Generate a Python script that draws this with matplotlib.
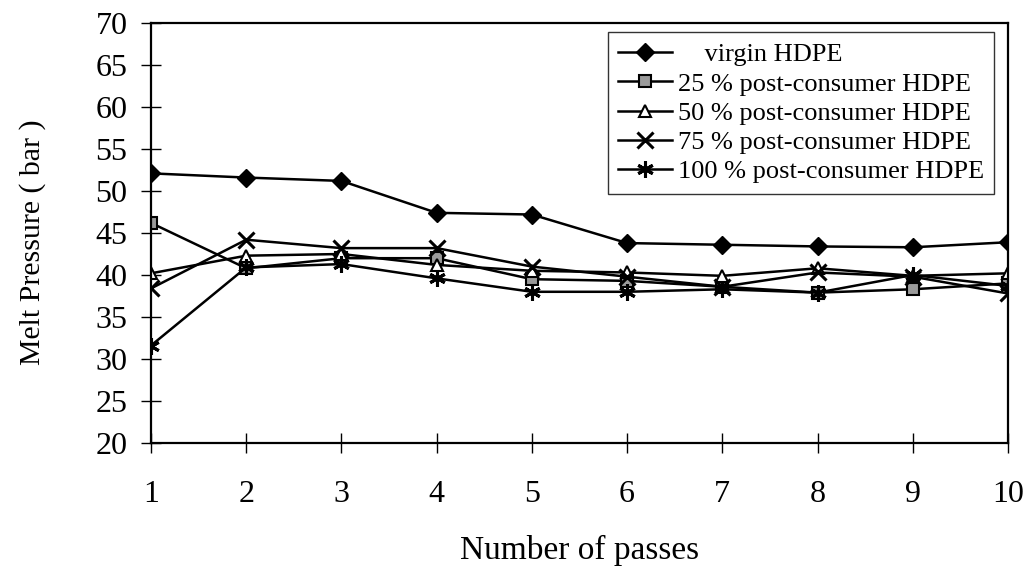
#!/usr/bin/env python3
"""
Melt pressure vs number of passes for virgin and post-consumer HDPE blends.
"""

import matplotlib
matplotlib.use('Agg')
import matplotlib.pyplot as plt

# Data
passes = [1, 2, 3, 4, 5, 6, 7, 8, 9, 10]
virgin = [52.1, 51.6, 51.2, 47.4, 47.2, 43.8, 43.6, 43.4, 43.3, 43.9]
pc25 = [46.2, 40.8, 42.0, 42.0, 39.5, 39.3, 38.6, 37.9, 38.3, 39.0]
pc50 = [40.2, 42.3, 42.5, 41.2, 40.5, 40.3, 39.9, 40.8, 39.9, 40.2]
pc75 = [38.4, 44.2, 43.2, 43.2, 41.0, 39.8, 38.6, 40.3, 39.8, 37.8]
pc100 = [31.6, 40.9, 41.3, 39.6, 38.0, 38.0, 38.3, 37.9, 40.0, 38.7]

labels = ['    virgin HDPE',
          '25 % post-consumer HDPE',
          '50 % post-consumer HDPE',
          '75 % post-consumer HDPE',
          '100 % post-consumer HDPE']

plt.rcParams['font.family'] = ['Liberation Serif', 'DejaVu Serif']

fig = plt.figure(figsize=(10.23, 5.71), dpi=100)
ax = fig.add_axes([0.1476, 0.2242, 0.8377, 0.7355])

lw = 1.8
ax.plot(passes, virgin, '-', color='black', lw=lw, marker='D', ms=9,
        mfc='black', mec='black', label=labels[0])
ax.plot(passes, pc25, '-', color='black', lw=lw, marker='s', ms=9,
        mfc='#9a9a9a', mec='black', mew=1.5, label=labels[1])
ax.plot(passes, pc50, '-', color='black', lw=lw, marker='^', ms=9,
        mfc='white', mec='black', mew=1.5, label=labels[2])
ax.plot(passes, pc75, '-', color='black', lw=lw, marker='x', ms=11,
        mec='black', mew=2.2, label=labels[3])
ax.plot(passes, pc100, '-', color='black', lw=lw, marker=(6, 2, 0), ms=12,
        mec='black', mew=2.2, label=labels[4])

ax.set_xlim(1, 10)
ax.set_ylim(20, 70)
ax.set_xticks(passes)
ax.set_yticks(range(20, 71, 5))
ax.tick_params(axis='both', direction='inout', length=14, width=1,
               labelsize=23)
ax.tick_params(axis='y', pad=10)
ax.tick_params(axis='x', pad=20)
for s in ax.spines.values():
    s.set_linewidth(1.6)

ax.set_xlabel('Number of passes', fontsize=24)
ax.set_ylabel('Melt Pressure ( bar )', fontsize=21.5)
ax.xaxis.set_label_coords(0.5, -0.218)
ax.yaxis.set_label_coords(-0.123, 0.478)

leg = ax.legend(loc='upper right', bbox_to_anchor=(0.984, 0.978), fontsize=19,
                frameon=True, fancybox=False, edgecolor='black',
                handlelength=2.05, handletextpad=0.2, labelspacing=0.22,
                borderpad=0.4, borderaxespad=0.0)
leg.get_frame().set_linewidth(1.0)

plt.savefig('out.png', dpi=100)
plt.close()
